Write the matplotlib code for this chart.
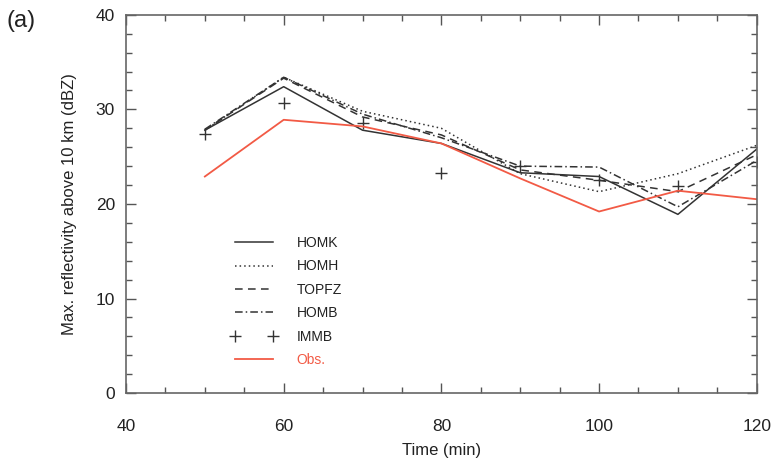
import matplotlib
matplotlib.use("Agg")
import matplotlib.pyplot as plt
from matplotlib.lines import Line2D
from matplotlib.ticker import MultipleLocator

plt.rcParams['font.family'] = ['Liberation Sans', 'DejaVu Sans']

time = [50, 60, 70, 80, 90, 100, 110, 120]
homk = [27.8, 32.4, 27.8, 26.4, 23.3, 22.9, 18.9, 25.8]
homh = [27.8, 33.4, 29.8, 28.0, 23.2, 21.3, 23.2, 26.2]
topfz = [27.8, 33.3, 29.2, 27.3, 23.6, 22.5, 21.3, 25.2]
homb = [27.9, 33.4, 29.5, 27.0, 24.0, 23.9, 19.7, 24.6]
immb = [27.4, 30.7, 28.6, 23.3, 24.0, 22.5, 21.9, 24.4]
obs = [22.9, 28.9, 28.2, 26.4, 22.7, 19.2, 21.4, 20.5]

labels = ['HOMK', 'HOMH', 'TOPFZ', 'HOMB', 'IMMB', 'Obs.']

fig = plt.figure(figsize=(7.73, 4.63), dpi=100)
ax = fig.add_axes([0.163, 0.151, 0.816, 0.817])

lc = '#333333'
red = '#f25a45'
lw = 1.1
ax.plot(time, homk, color=lc, lw=lw, ls='-')
ax.plot(time, homh, color=lc, lw=lw, ls=(0, (1, 2)))
ax.plot(time, topfz, color=lc, lw=lw, ls=(0, (5, 3.5)))
ax.plot(time, homb, color=lc, lw=lw, ls=(0, (5, 2, 1, 2)))
ax.plot(time, immb, color=lc, lw=0, marker='+', ms=8, mew=1.0, ls='none')
ax.plot(time, obs, color=red, lw=1.3, ls='-')

ax.set_xlim(40, 120)
ax.set_ylim(0, 40)
ax.xaxis.set_major_locator(MultipleLocator(20))
ax.xaxis.set_minor_locator(MultipleLocator(5))
ax.yaxis.set_major_locator(MultipleLocator(10))
ax.yaxis.set_minor_locator(MultipleLocator(2))
ax.tick_params(which='both', direction='in', top=True, right=True, colors='#555555',
               labelcolor='#222222', labelsize=12.5)
ax.tick_params(which='major', length=7, width=1)
ax.tick_params(which='minor', length=4, width=1)
ax.tick_params(axis='x', which='major', pad=19)
ax.tick_params(axis='y', which='major', pad=8)
for s in ax.spines.values():
    s.set_color('#666666')
    s.set_linewidth(1.2)

ax.set_xlabel('Time (min)', fontsize=12, color='#222222', labelpad=6)
ax.set_ylabel('Max. reflectivity above 10 km (dBZ)', fontsize=12, color='#222222', labelpad=13)

fig.text(0.008, 0.955, '(a)', fontsize=17, color='#222222', va='center', ha='left')

handles = [
    Line2D([], [], color=lc, lw=lw, ls='-'),
    Line2D([], [], color=lc, lw=lw, ls=(0, (1, 2))),
    Line2D([], [], color=lc, lw=lw, ls=(0, (5, 3.5))),
    Line2D([], [], color=lc, lw=lw, ls=(0, (5, 2, 1, 2))),
    Line2D([], [], color=lc, lw=0, marker='+', ms=8, mew=1.0, ls='none'),
    Line2D([], [], color=red, lw=1.3, ls='-'),
]
leg = ax.legend(handles, labels, loc='upper left', bbox_to_anchor=(0.158, 0.43),
                frameon=False, fontsize=10, handlelength=3.3, handletextpad=1.4,
                labelspacing=0.68, numpoints=2, borderaxespad=0)
for t in leg.get_texts():
    t.set_color('#222222')
leg.get_texts()[-1].set_color(red)

fig.savefig('out.png', dpi=100)
